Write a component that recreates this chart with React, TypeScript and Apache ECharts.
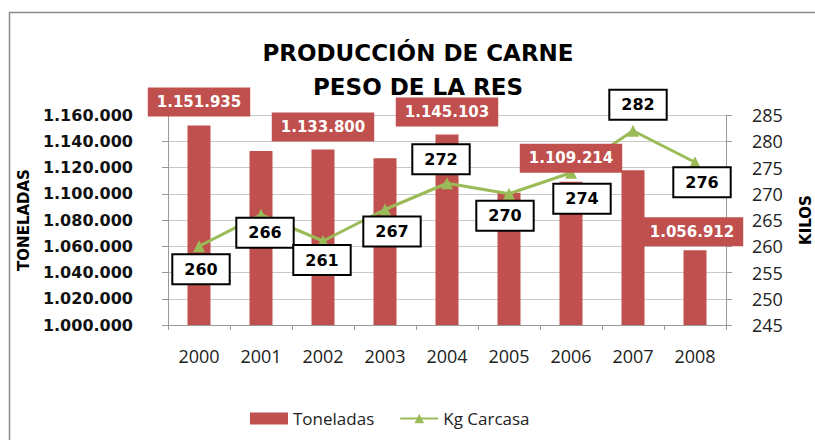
import React, { useEffect, useRef } from "react";
import * as echarts from "echarts";

const years = ["2000", "2001", "2002", "2003", "2004", "2005", "2006", "2007", "2008"];
const toneladas = [1151935, 1132500, 1133800, 1127000, 1145103, 1100800, 1109214, 1118000, 1056912];
const kgCarcasa = [260, 266, 261, 267, 272, 270, 274, 282, 276];
const showBarLabel = [true, false, true, false, true, false, true, false, true];
const barLabelOffset: [number, number][] = [[0, -9], [0, -8], [0, -8], [0, -8], [0, -8], [0, -8], [0, -9], [0, -8], [-3, -4]];
const lineLabelOffset: [number, number][] = [[2, 23], [4, 18], [-1, 19], [7, 22], [-6, -24], [-4, 22], [11, 26], [5, -26], [7, 20]];

const fmtThousands = (v: number) => String(Math.round(v)).replace(/\B(?=(\d{3})+(?!\d))/g, ".");

export default function App() {
  const ref = useRef<HTMLDivElement>(null);
  useEffect(() => {
    if (!ref.current) return;
    const chart = echarts.init(ref.current, null, { renderer: "svg" });
    const font = "Open Sans";
    const boldFont = "DejaVu Sans";
    chart.setOption({
      animation: false,
      backgroundColor: "#ffffff",
      textStyle: { fontFamily: font },
      title: {
        text: "PRODUCCIÓN DE CARNE\nPESO DE LA RES",
        left: 413,
        textAlign: "center",
        top: 31,
        textStyle: { fontSize: 23, fontWeight: "bold", color: "#000", lineHeight: 34, fontFamily: boldFont },
      },
      graphic: [
        {
          type: "rect",
          shape: { x: 9.5, y: 12.5, width: 830, height: 460 },
          style: { fill: "none", stroke: "#8a8a8a", lineWidth: 1.5 },
          silent: true,
        },
      ],
      legend: {
        top: 405,
        left: 245,
        itemGap: 25,
        itemWidth: 38,
        itemHeight: 12,
        textStyle: { fontSize: 17, color: "#222", fontFamily: font },
        data: [
          { name: "Toneladas", icon: "rect" },
          { name: "Kg Carcasa" },
        ],
      },
      grid: { left: 168, right: 89, top: 115, bottom: 115, containLabel: false, outerBoundsMode: "none" },
      xAxis: {
        type: "category",
        data: years,
        axisLine: { lineStyle: { color: "#999" } },
        axisTick: { show: true, length: 5, lineStyle: { color: "#999" } },
        axisLabel: { fontSize: 18, color: "#222", margin: 22, fontFamily: font },
      },
      yAxis: [
        {
          type: "value",
          min: 1000000,
          max: 1160000,
          interval: 20000,
          name: "TONELADAS",
          nameLocation: "middle",
          nameGap: 137,
          nameRotate: 90,
          nameTextStyle: { fontSize: 15, fontWeight: "bold", color: "#000", fontFamily: boldFont },
          axisLine: { show: true, lineStyle: { color: "#999" } },
          axisTick: { show: true, length: 6, inside: false, lineStyle: { color: "#999" } },
          axisLabel: { fontSize: 16, fontWeight: "bold", color: "#111", margin: 35, formatter: (v: number) => fmtThousands(v), fontFamily: boldFont },
          splitLine: { show: true, lineStyle: { color: "#c8c8c8" } },
        },
        {
          type: "value",
          min: 245,
          max: 285,
          interval: 5,
          name: "KILOS",
          nameLocation: "middle",
          nameGap: 72,
          nameRotate: 90,
          nameTextStyle: { fontSize: 15, fontWeight: "bold", color: "#000", fontFamily: boldFont },
          axisLine: { show: true, lineStyle: { color: "#999" } },
          axisTick: { show: true, length: 6, lineStyle: { color: "#999" } },
          axisLabel: { fontSize: 18, color: "#222", margin: 26, fontFamily: font },
          splitLine: { show: false },
        },
      ],
      series: [
        {
          name: "Toneladas",
          type: "bar",
          yAxisIndex: 0,
          barWidth: 23,
          itemStyle: { color: "#c0504d" },
          data: toneladas,
          z: 1,
        },
        {
          name: "Kg Carcasa",
          type: "line",
          yAxisIndex: 1,
          symbol: "triangle",
          symbolSize: 12,
          lineStyle: { color: "#9bbb59", width: 3 },
          itemStyle: { color: "#9bbb59" },
          data: kgCarcasa.map((v, i) => ({
            value: v,
            label: {
              show: true,
              position: "inside",
              offset: lineLabelOffset[i],
              color: "#000",
              fontWeight: "bold",
              fontSize: 16,
              lineHeight: 18,
              backgroundColor: "#fff",
              borderColor: "#000",
              borderWidth: 2,
              padding: [5, 11, 5, 11],
              fontFamily: boldFont,
            },
          })),
          z: 3,
        },
        {
          name: "ToneladasEtiquetas",
          type: "bar",
          yAxisIndex: 0,
          barWidth: 23,
          barGap: "-100%",
          silent: true,
          itemStyle: { color: "rgba(0,0,0,0)" },
          data: toneladas.map((v, i) => ({
            value: v,
            label: {
              show: showBarLabel[i],
              position: "top",
              distance: 0,
              offset: barLabelOffset[i],
              formatter: () => fmtThousands(v),
              color: "#fff",
              fontWeight: "bold",
              fontSize: 15,
              lineHeight: 17,
              backgroundColor: "#c0504d",
              padding: [6, 9, 6, 9],
              fontFamily: boldFont,
            },
          })),
          z: 5,
        },
      ],
    });
    return () => chart.dispose();
  }, []);
  return <div ref={ref} style={{ position: "fixed", left: 0, top: 0, width: 815, height: 440 }} />;
}
